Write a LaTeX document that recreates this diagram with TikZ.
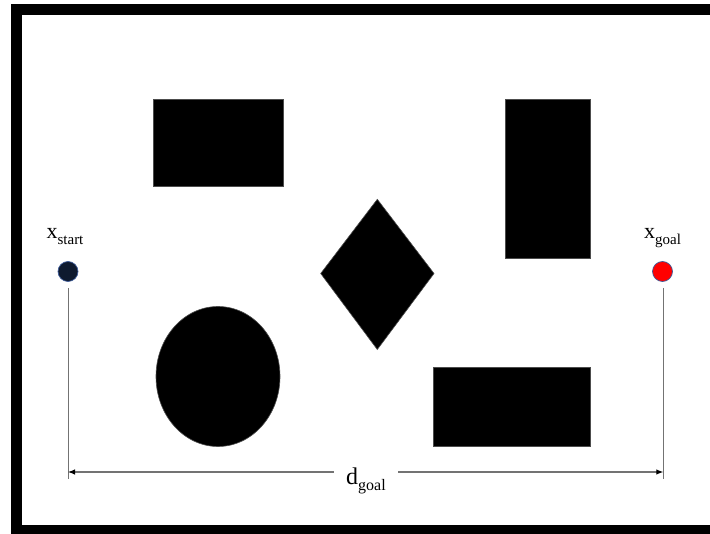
\documentclass[tikz,border=0pt]{standalone}
\usepackage{fontspec}
\setmainfont{Liberation Serif}
\usepackage{tikz}
\usetikzlibrary{positioning,arrows.meta,calc}
\definecolor{startfill}{HTML}{0E1A2F}
\definecolor{rimblue}{HTML}{3F5C99}
\newcommand{\sublbl}[3]{#1\raisebox{-0.25em}{\fontsize{#3}{#3}\selectfont #2}}

\begin{document}
\begin{tikzpicture}[
  x=1pt, y=-1pt,
  obst/.style={fill=black, draw=black!70, line width=0.6pt},
  pt/.style={circle, minimum size=20pt, inner sep=0pt, line width=0.7pt, draw=rimblue},
  lbl/.style={font=\fontsize{22}{24}\selectfont, inner sep=0pt, anchor=base},
  ext/.style={black!55, line width=1pt},
  dim/.style={{Latex[length=7pt,width=5.5pt,black]}-{Latex[length=7pt,width=5.5pt,black]}, black!55, line width=1.1pt}
]
\useasboundingbox (0,0) rectangle (710,534);
% frame
\draw[line width=11pt] (16.5,9.5) rectangle (722,531);
% obstacles
\path[obst] (153,99) rectangle (283,186);
\path[obst] (505,99) rectangle (590,258);
\path[obst] (433,367) rectangle (590,446);
\path[obst] (218,376.5) ellipse [x radius=62, y radius=70];
\path[obst] (377.3,199.3) -- (434,273.5) -- (377.3,349.5) -- (320.7,273.5) -- cycle;
% start and goal
\node[pt, fill=startfill] (start) at (68,271.5) {};
\node[pt, fill=red] (goal) at (662.5,271.5) {};
\node[lbl] (lstart) at (65,239) {\sublbl{x}{start}{15}};
\node[lbl] (lgoal) at (662.5,239) {\sublbl{x}{goal}{15}};
% distance to goal
\coordinate (sb) at (68,479);
\coordinate (gb) at (663.3,479);
\coordinate (dl) at (68,472);
\coordinate (dr) at (663.3,472);
\draw[ext, shorten <=6pt] (start.south) -- (sb);
\draw[ext, shorten <=6pt] (start.south -| gb) -- (gb);
\draw[dim] (dl) -- (dr);
\node[font=\fontsize{24}{26}\selectfont, fill=white, inner sep=0pt, minimum width=64pt, minimum height=34pt] (dgoal) at (366,481) {\sublbl{d}{goal}{16}};
\end{tikzpicture}
\end{document}
